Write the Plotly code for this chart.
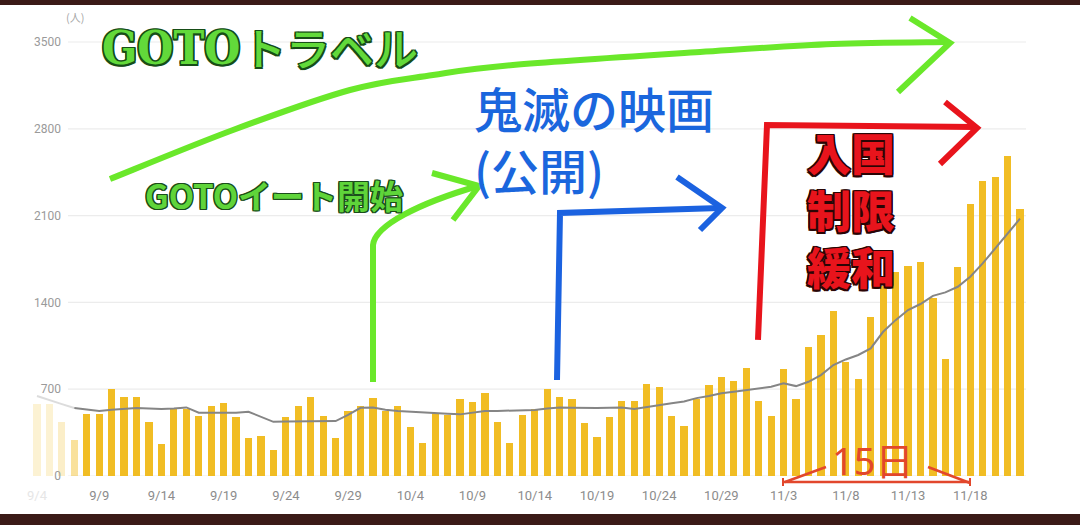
import plotly.graph_objects as go
import pandas as pd

# ---------------- data ----------------
start_date = "2020-09-04"
cases = [
    580, 580, 435, 290,                                   # 9/4 - 9/7 (faded)
    500, 500, 705, 635, 635, 435, 258, 537, 537, 486,     # 9/8 - 9/17
    567, 586, 473, 304, 322, 209, 473, 567, 635, 486,     # 9/18 - 9/27
    304, 526, 567,                                        # 9/28 - 9/30
    626, 526, 567, 392, 269, 505, 492, 618, 599, 672,     # 10/1 - 10/10
    437, 269, 492, 537, 699, 639, 618, 424, 312, 473,     # 10/11 - 10/20
    607, 607, 739, 720, 486, 405, 618, 733, 801, 769,     # 10/21 - 10/30
    874,                                                  # 10/31
    605, 484, 862, 618, 1042, 1136, 1330, 916, 780, 1279, # 11/1 - 11/10
    1535, 1645, 1695, 1722, 1432, 943, 1687, 2195, 2380, 2415,  # 11/11 - 11/20
    2580, 2150,                                           # 11/21 - 11/22
]
avg7 = [
    645, 615, 580, 548,
    535, 525, 535, 543, 548, 545, 540, 545, 553, 510,
    510, 510, 510, 518, 475, 437, 439, 441, 442, 443,
    443, 492, 550,
    552, 535, 525, 518, 515, 510, 503, 497, 510, 524,
    525, 527, 529, 532, 545, 553, 550, 548, 548, 550,
    553, 540, 557, 573, 586, 601, 628, 646, 667, 680,
    693,
    707, 720, 747, 725, 760, 814, 895, 940, 976, 1029,
    1163, 1257, 1338, 1387, 1453, 1481, 1526, 1607, 1714, 1835,
    1950, 2075,
]
x_tick_labels = ["9/4", "9/9", "9/14", "9/19", "9/24", "9/29", "10/4", "10/9",
                 "10/14", "10/19", "10/24", "10/29", "11/3", "11/8", "11/13", "11/18"]
y_ticks = [0, 700, 1400, 2100, 2800, 3500]
n_faded = 4

dates = pd.date_range(start_date, periods=len(cases), freq="D")
tick_dates = [pd.Timestamp(f"2020-{t.split('/')[0]}-{t.split('/')[1]}") for t in x_tick_labels]

# ---------------- geometry helpers (pixel -> paper) ----------------
W, H = 1080, 525
L, R, T, B = 20, 1028, 10, 476
px_per_unit = (476 - 42) / 3500.0
day_px = (1020 - 37) / 79.0


def PX(x):
    return (x - L) / (R - L)


def PY(y):
    return (B - y) / (B - T)


def path(pts):
    return "M " + " L ".join(f"{PX(x):.5f},{PY(y):.5f}" for x, y in pts)


def smooth_path(pts):
    s = f"M {PX(pts[0][0]):.5f},{PY(pts[0][1]):.5f}"
    p = [pts[0]] + pts + [pts[-1]]
    for i in range(1, len(p) - 2):
        p0, p1, p2, p3 = p[i - 1], p[i], p[i + 1], p[i + 2]
        c1 = (p1[0] + (p2[0] - p0[0]) / 6, p1[1] + (p2[1] - p0[1]) / 6)
        c2 = (p2[0] - (p3[0] - p1[0]) / 6, p2[1] - (p3[1] - p1[1]) / 6)
        s += (f" C {PX(c1[0]):.5f},{PY(c1[1]):.5f} {PX(c2[0]):.5f},{PY(c2[1]):.5f}"
              f" {PX(p2[0]):.5f},{PY(p2[1]):.5f}")
    return s


def outline(color, w):
    offs = [(w, 0), (-w, 0), (0, w), (0, -w), (w, w), (-w, -w), (w, -w), (-w, w)]
    return ", ".join(f"{a}px {b}px 0 {color}" for a, b in offs)


# ---------------- traces ----------------
base_rgb = (241, 189, 36)
fade_alpha = [0.2, 0.2, 0.25, 0.45]
bar_colors = [f"rgba({base_rgb[0]},{base_rgb[1]},{base_rgb[2]},{fade_alpha[i] if i < n_faded else 1})"
              for i in range(len(cases))]

fig = go.Figure()
fig.add_trace(go.Bar(
    x=dates, y=cases, marker=dict(color=bar_colors, line=dict(width=0)),
    width=0.58 * 86400000, yaxis="y", hoverinfo="skip", showlegend=False,
))
fig.add_trace(go.Scatter(
    x=dates[:n_faded], y=avg7[:n_faded], mode="lines",
    line=dict(color="rgba(140,140,140,0.3)", width=2), yaxis="y2",
    hoverinfo="skip", showlegend=False,
))
fig.add_trace(go.Scatter(
    x=dates[n_faded - 1:], y=avg7[n_faded - 1:], mode="lines",
    line=dict(color="#858585", width=2), yaxis="y2",
    hoverinfo="skip", showlegend=False,
))

ymax = (B - T) / px_per_unit
x0 = dates[0] - pd.Timedelta(days=(37 - L) / day_px)
x1 = dates[-1] + pd.Timedelta(days=(R - 1020) / day_px)

tick_text = [f"<span style='color:#e6e6e6'>{t}</span>" if i == 0 else t
             for i, t in enumerate(x_tick_labels)]

SANS = "Roboto, Noto Sans, sans-serif"
CJK = "Noto Sans CJK JP, Noto Sans, sans-serif"
LATIN_CJK = "Noto Sans, Noto Sans CJK JP, sans-serif"
TYPE = "DejaVu Serif Condensed, DejaVu Serif, Liberation Serif, serif"

fig.update_layout(
    width=W, height=H,
    margin=dict(l=L, r=W - R, t=T, b=H - B),
    paper_bgcolor="white", plot_bgcolor="white",
    bargap=0,
    xaxis=dict(range=[x0, x1], tickvals=tick_dates, ticktext=tick_text,
               showgrid=False, zeroline=False, ticks="", showline=False,
               tickfont=dict(family=SANS, size=13, color="#8c8c8c"),
               ticklabelstandoff=10),
    yaxis=dict(range=[0, ymax], showticklabels=False, showgrid=False,
               zeroline=False, ticks=""),
    yaxis2=dict(range=[0, ymax], overlaying="y", anchor="free", position=PX(61),
                side="left", tickvals=y_ticks, ticktext=[str(v) for v in y_ticks],
                showgrid=False, zeroline=False, ticks="", showline=False,
                tickfont=dict(family=SANS, size=12, color="#9a9a9a")),
)

shapes = []
# grid lines
for v in y_ticks:
    shapes.append(dict(type="line", xref="paper", yref="y", x0=PX(68), x1=PX(1026),
                       y0=v, y1=v, line=dict(color="#ececec", width=1.2), layer="below"))
# dark frame strips
shapes.append(dict(type="rect", xref="paper", yref="paper", x0=PX(0), x1=PX(W),
                   y0=PY(0), y1=PY(5), fillcolor="#3b1a17", line=dict(width=0)))
shapes.append(dict(type="rect", xref="paper", yref="paper", x0=PX(0), x1=PX(W),
                   y0=PY(514), y1=PY(H), fillcolor="#3b1a17", line=dict(width=0)))

GREEN = "#6ae82a"
BLUE = "#1b62e0"
RED = "#e8141c"
ORANGE = "#e2472c"


def add_path(d, color, width):
    shapes.append(dict(type="path", xref="paper", yref="paper", path=d,
                       line=dict(color=color, width=width)))


# big GOTO travel arrow
add_path(smooth_path([(110, 179), (233, 130), (350, 90), (433, 75), (513, 65),
                      (700, 52), (833, 44), (948, 42)]), GREEN, 6)
add_path(path([(910, 18), (950, 43), (898, 92)]), GREEN, 6)
# GOTO eat arrow
add_path(f"M {PX(373):.5f},{PY(382):.5f} L {PX(373):.5f},{PY(245):.5f} "
         f"C {PX(375):.5f},{PY(225):.5f} {PX(420):.5f},{PY(203):.5f} {PX(478):.5f},{PY(186):.5f}",
         GREEN, 6)
add_path(path([(432, 173), (479, 186), (453, 220)]), GREEN, 6)
# blue arrow
add_path(path([(557, 380), (560, 213), (720, 208)]), BLUE, 6)
add_path(path([(677, 177), (722, 208), (700, 230)]), BLUE, 6)
# red arrow
add_path(path([(758, 340), (767, 125), (975, 127)]), RED, 6)
add_path(path([(945, 102), (977, 128), (940, 164)]), RED, 6)
# 15 day bracket
add_path(path([(783, 482), (970, 482)]), ORANGE, 2.5)
add_path(path([(785, 482), (826, 467)]), ORANGE, 2.5)
add_path(path([(928, 467), (970, 483)]), ORANGE, 2.5)
add_path(path([(783, 478), (783, 486)]), ORANGE, 2)
add_path(path([(970, 478), (970, 486)]), ORANGE, 2)

fig.update_layout(shapes=shapes)

ann = []


def text(x, y, s, size, color, weight=400, shadow=None, xanchor="center", family=CJK,
         align="center"):
    ann.append(dict(xref="paper", yref="paper", x=PX(x), y=PY(y), text=s,
                    showarrow=False, xanchor=xanchor, yanchor="middle", align=align,
                    font=dict(family=family, size=size, color=color, weight=weight,
                              shadow=shadow if shadow else "none")))


text(75, 17, "(人)", 11, "#a8a8a8")
text(100, 48, "GOTO", 46, "#62d93a", 700, outline("#174d17", 1.5),
     xanchor="left", family=TYPE)
text(240, 47, "トラベル", 44, "#62d93a", 500, outline("#174d17", 1.5), xanchor="left")
text(274, 195, "GOTOイート開始", 33, "#5fd43a", 600, outline("#1b4d1b", 1.2))
text(472, 138, "鬼滅の映画<br>(公開)", 48, "#1a66dd", 500, xanchor="left", align="left")
text(851, 209, "入国<br>制限<br>緩和", 44, RED, 900, outline("#2a0505", 1.5))
text(872, 460, "15日", 38, ORANGE, 400, family=LATIN_CJK)

fig.update_layout(annotations=ann)
fig.write_html("out.html", config={"displayModeBar": False},
               post_script="document.body.style.margin='0';")
